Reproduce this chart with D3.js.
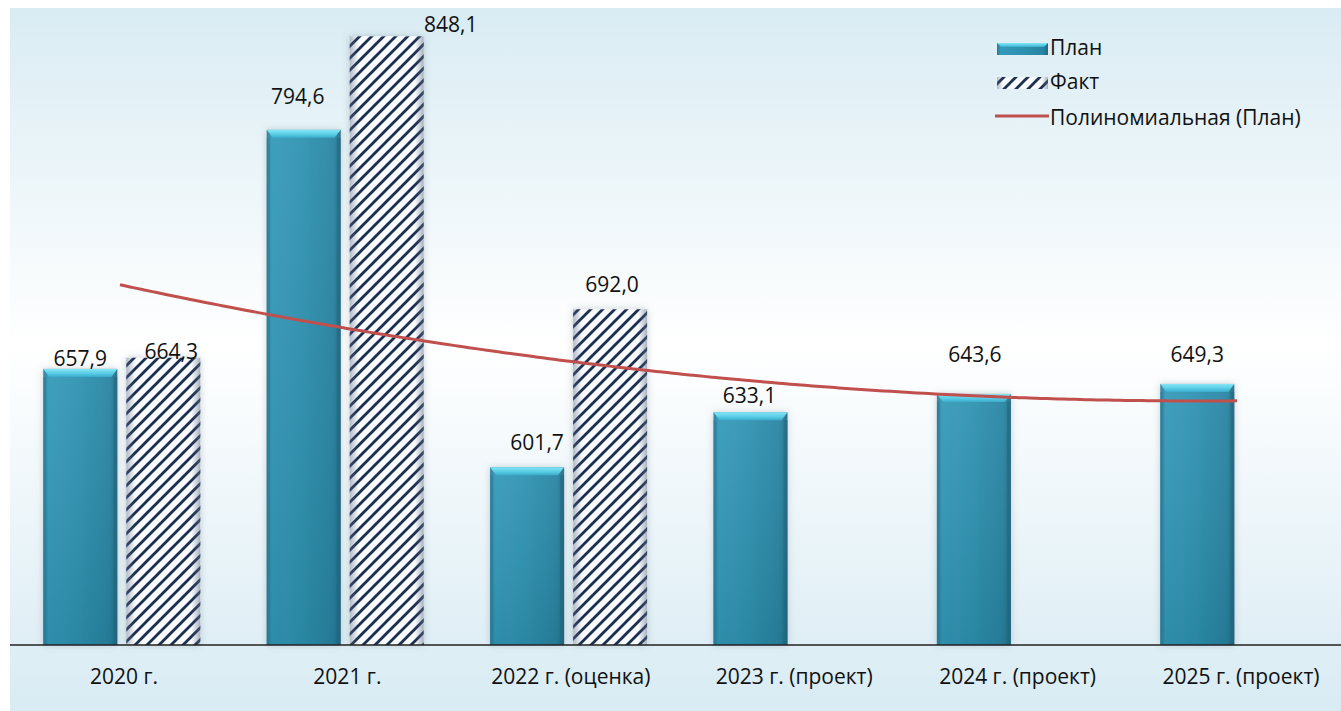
<!DOCTYPE html>
<html>
<head>
<meta charset="utf-8">
<script src="https://cdn.jsdelivr.net/npm/d3@7"></script>
<style>
  html, body { margin: 0; padding: 0; background: #ffffff; }
  svg { display: block; }
  text { font-family: "Open Sans", "Noto Sans", sans-serif; fill: #111; }
</style>
</head>
<body>
<svg id="chart" width="1341" height="711"></svg>
<script>
// Categories and values
const categories = ["2020 г.", "2021 г.", "2022 г. (оценка)", "2023 г. (проект)", "2024 г. (проект)", "2025 г. (проект)"];
const planValues = [657.9, 794.6, 601.7, 633.1, 643.6, 649.3];
const factValues = [664.3, 848.1, 692.0, null, null, null];
const seriesNames = ["План", "Факт", "Полиномиальная (План)"];
const yDomain = [500, 850];

const fmt = v => d3.format(".1f")(v).replace(".", ",");
const FS = 21;

const W = 1341, H = 711;
const svg = d3.select("#chart");
const defs = svg.append("defs");

// Background gradient of the chart panel
const bg = defs.append("linearGradient").attr("id", "bgGrad").attr("x1", 0).attr("y1", 0).attr("x2", 0).attr("y2", 1);
bg.append("stop").attr("offset", "0%").attr("stop-color", "#d9ecf3");
bg.append("stop").attr("offset", "48%").attr("stop-color", "#ffffff");
bg.append("stop").attr("offset", "100%").attr("stop-color", "#d8ebf3");

// Plan bar body: horizontal shading
const pg = defs.append("linearGradient").attr("id", "planGrad").attr("x1", 0).attr("y1", 0).attr("x2", 1).attr("y2", 0);
[["0%", "#287b97"], ["7%", "#3399b9"], ["45%", "#2e93b2"], ["90%", "#2884a2"], ["100%", "#226a83"]]
  .forEach(([o, c]) => pg.append("stop").attr("offset", o).attr("stop-color", c));
// Plan bar top cap
const pc = defs.append("linearGradient").attr("id", "planCap").attr("x1", 0).attr("y1", 0).attr("x2", 0).attr("y2", 1);
[["0%", "#86e6f7"], ["60%", "#56cae3"], ["100%", "#3aaccb"]]
  .forEach(([o, c]) => pc.append("stop").attr("offset", o).attr("stop-color", c));
// Plan bar vertical light falloff
const pv = defs.append("linearGradient").attr("id", "planV").attr("x1", 0).attr("y1", 0).attr("x2", 0).attr("y2", 1);
pv.append("stop").attr("offset", "0%").attr("stop-color", "#ffffff").attr("stop-opacity", 0.06);
pv.append("stop").attr("offset", "100%").attr("stop-color", "#000000").attr("stop-opacity", 0.08);

// Fact bar hatch
const hatch = defs.append("pattern").attr("id", "hatch").attr("patternUnits", "userSpaceOnUse")
  .attr("width", 12).attr("height", 12);
hatch.append("rect").attr("width", 12).attr("height", 12).attr("fill", "#f8fbfe");
hatch.append("path").attr("d", "M-3,3 L3,-3 M0,12 L12,0 M9,15 L15,9")
  .attr("stroke", "#1e2f4f").attr("stroke-width", 2.8);
// Fact bar edge shading
const fe = defs.append("linearGradient").attr("id", "factEdge").attr("x1", 0).attr("y1", 0).attr("x2", 1).attr("y2", 0);
[["0%", 0.45], ["12%", 0.0], ["88%", 0.0], ["100%", 0.5]]
  .forEach(([o, a]) => fe.append("stop").attr("offset", o).attr("stop-color", "#5a6a80").attr("stop-opacity", a));

// Soft shadow around bars
const sh = defs.append("filter").attr("id", "shadow").attr("x", "-30%").attr("y", "-10%").attr("width", "160%").attr("height", "120%");
sh.append("feDropShadow").attr("dx", 0).attr("dy", 0).attr("stdDeviation", 3.5)
  .attr("flood-color", "#6b7c88").attr("flood-opacity", 0.35);
const soft = defs.append("filter").attr("id", "soft");
soft.append("feGaussianBlur").attr("stdDeviation", 0.6);

// Panel
svg.append("rect").attr("x", 10).attr("y", 8).attr("width", W - 10).attr("height", H - 8).attr("fill", "url(#bgGrad)");

// Scales
const y = d3.scaleLinear().domain(yDomain).range([645, 33]);
const x0 = d3.scaleBand().domain(categories).range([12.3, 1352.7]);
const x1 = d3.scaleBand().domain(["plan", "fact"]).range([31, 188]).paddingInner(0.1084);
const bw = x1.bandwidth();

// Label nudges for individual value labels
const nudge = {
  "plan-0": [0, -3], "plan-1": [-6, -26], "plan-2": [10, -17], "plan-3": [-1, -9], "plan-4": [1, -32], "plan-5": [0, -22],
  "fact-0": [8, 1], "fact-1": [64, -4], "fact-2": [2, -17]
};

const gBars = svg.append("g");

// Plan bars
planValues.forEach((v, i) => {
  const bx = x0(categories[i]) + x1("plan");
  const top = y(v), h = y(yDomain[0]) - top;
  const g = gBars.append("g");
  g.append("rect").attr("x", bx).attr("y", top).attr("width", bw).attr("height", h)
    .attr("fill", "url(#planGrad)").attr("filter", "url(#shadow)");
  g.append("rect").attr("x", bx).attr("y", top).attr("width", bw).attr("height", h).attr("fill", "url(#planV)");
  // bevelled top
  g.append("path")
    .attr("d", `M${bx},${top} L${bx + bw},${top} L${bx + bw - 6},${top + 8} L${bx + 6},${top + 8} Z`)
    .attr("fill", "url(#planCap)");
  g.append("rect").attr("x", bx).attr("y", top + 8).attr("width", 3).attr("height", h - 8).attr("fill", "#2a7f9c").attr("opacity", 0.6);
  g.append("rect").attr("x", bx + bw - 4).attr("y", top + 8).attr("width", 4).attr("height", h - 8).attr("fill", "#1f6680").attr("opacity", 0.5);
});

// Fact bars
factValues.forEach((v, i) => {
  if (v == null) return;
  const bx = x0(categories[i]) + x1("fact");
  const top = y(v), h = y(yDomain[0]) - top;
  const g = gBars.append("g");
  g.append("rect").attr("x", bx).attr("y", top).attr("width", bw).attr("height", h)
    .attr("fill", "#e9eef4").attr("filter", "url(#shadow)");
  g.append("rect").attr("x", bx).attr("y", top).attr("width", bw).attr("height", h)
    .attr("fill", "url(#hatch)").attr("filter", "url(#soft)");
  g.append("rect").attr("x", bx).attr("y", top).attr("width", bw).attr("height", h).attr("fill", "url(#factEdge)");
});

// Axis line
svg.append("line").attr("x1", 10).attr("x2", W).attr("y1", y(yDomain[0])).attr("y2", y(yDomain[0]))
  .attr("stroke", "#222").attr("stroke-width", 1.3);

// Category labels
svg.append("g").selectAll("text").data(categories).join("text")
  .attr("x", d => x0(d) + x0.bandwidth() / 2)
  .attr("y", 684)
  .attr("text-anchor", "middle")
  .attr("font-size", FS)
  .text(d => d);

// Polynomial (order 2) trend of the plan series, least squares fit
function polyFit2(ys) {
  let s = [0, 0, 0, 0, 0], t = [0, 0, 0];
  ys.forEach((yv, k) => {
    const xv = k + 1;
    for (let p = 0; p <= 4; p++) s[p] += Math.pow(xv, p);
    for (let p = 0; p <= 2; p++) t[p] += Math.pow(xv, p) * yv;
  });
  // normal equations  [s0 s1 s2; s1 s2 s3; s2 s3 s4] * [a b c] = t
  const A = [[s[0], s[1], s[2], t[0]], [s[1], s[2], s[3], t[1]], [s[2], s[3], s[4], t[2]]];
  for (let c = 0; c < 3; c++) {
    for (let r = c + 1; r < 3; r++) {
      const f = A[r][c] / A[c][c];
      for (let k = c; k < 4; k++) A[r][k] -= f * A[c][k];
    }
  }
  const sol = [0, 0, 0];
  for (let r = 2; r >= 0; r--) {
    let acc = A[r][3];
    for (let k = r + 1; k < 3; k++) acc -= A[r][k] * sol[k];
    sol[r] = acc / A[r][r];
  }
  return xv => sol[0] + sol[1] * xv + sol[2] * xv * xv;
}
const trend = polyFit2(planValues);
const step = x0.step();
const firstCenter = x0(categories[0]) + x0.bandwidth() / 2 - 4;
const trendPts = d3.range(1, planValues.length + 0.001, 0.05).map(xv => [firstCenter + (xv - 1) * step, y(trend(xv))]);
svg.append("path").attr("d", d3.line().curve(d3.curveMonotoneX)(trendPts))
  .attr("fill", "none").attr("stroke", "#c0504d").attr("stroke-width", 3);

// Value labels
const gLab = svg.append("g");
planValues.forEach((v, i) => {
  const [dx, dy] = nudge["plan-" + i];
  gLab.append("text").attr("x", x0(categories[i]) + x1("plan") + bw / 2 + dx).attr("y", y(v) + dy)
    .attr("text-anchor", "middle").attr("font-size", FS).text(fmt(v));
});
factValues.forEach((v, i) => {
  if (v == null) return;
  const [dx, dy] = nudge["fact-" + i];
  gLab.append("text").attr("x", x0(categories[i]) + x1("fact") + bw / 2 + dx).attr("y", y(v) + dy)
    .attr("text-anchor", "middle").attr("font-size", FS).text(fmt(v));
});

// Legend
const lg = svg.append("g").attr("transform", "translate(997,0)");
lg.append("rect").attr("x", 0).attr("y", 43).attr("width", 51).attr("height", 12).attr("fill", "url(#planGrad)");
lg.append("path").attr("d", "M0,43 L51,43 L47,47 L4,47 Z").attr("fill", "url(#planCap)");
lg.append("rect").attr("x", 0).attr("y", 77).attr("width", 51).attr("height", 12).attr("fill", "url(#hatch)");
lg.append("rect").attr("x", 0).attr("y", 77).attr("width", 51).attr("height", 12).attr("fill", "url(#factEdge)");
lg.append("line").attr("x1", -2).attr("x2", 52).attr("y1", 116).attr("y2", 116).attr("stroke", "#c0504d").attr("stroke-width", 3);
[55, 89, 125].forEach((yy, k) => {
  lg.append("text").attr("x", 53).attr("y", yy).attr("font-size", FS).text(seriesNames[k]);
});
</script>
</body>
</html>
